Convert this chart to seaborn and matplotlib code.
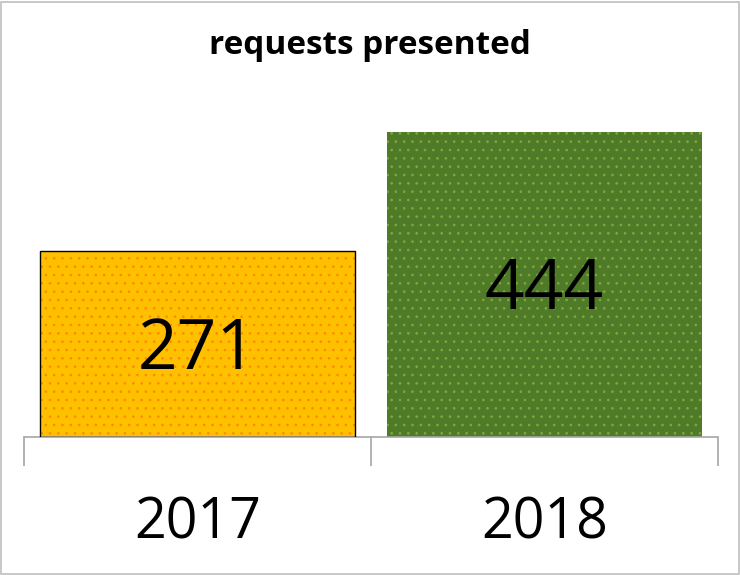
import matplotlib
matplotlib.use("Agg")
import matplotlib.pyplot as plt
import seaborn as sns
import pandas as pd

years = ["2017", "2018"]
requests = [271, 444]
bar_colors = ["#FFC000", "#4F7A28"]
dot_colors = ["#FF8A00", "#7FA83A"]

df = pd.DataFrame({"year": years, "requests": requests})

sns.set_style("white")
plt.rcParams['font.family'] = ['Open Sans', 'DejaVu Sans']
plt.rcParams['hatch.linewidth'] = 0.7

fig = plt.figure(figsize=(7.4, 5.75), dpi=100)
ax = fig.add_axes([0.0324, 0.24, 0.9378, 0.586])

sns.barplot(data=df, x="year", y="requests", hue="year", palette=bar_colors,
            width=0.91, saturation=1, legend=False, ax=ax)  # bars

# dotted texture like the original fill pattern
for bar, dc in zip(ax.patches, dot_colors):
    bar.set_hatch("..")
    bar.set_edgecolor(dc)
    bar.set_linewidth(0)
# thin black outline on the first bar only
x0 = ax.patches[0]
outline = plt.Rectangle((x0.get_x(), 0), x0.get_width(), x0.get_height(),
                        fill=False, edgecolor="black", linewidth=1, zorder=3)
ax.add_patch(outline)

# value labels centred in the bars
for i, v in enumerate(requests):
    ax.annotate(str(v), (i, v / 2), xytext=(0, -7), textcoords="offset pixels",
                ha="center", va="center", fontsize=50, color="black", zorder=4)

ax.set_xlim(-0.5, 1.5)
ax.set_ylim(0, 490)
ax.set_xlabel("")
ax.set_ylabel("")
ax.set_yticks([])
ax.set_xticks([-0.5, 0.5, 1.5])
ax.set_xticklabels(["", "", ""])
ax.tick_params(axis="x", length=21, color="#A6A6A6", width=1.2, direction="out", bottom=True)
for i, y in enumerate(years):
    ax.text(i, -0.258, y, transform=ax.get_xaxis_transform(), ha="center", va="center",
            fontsize=40, color="black")

for s in ["top", "right", "left"]:
    ax.spines[s].set_visible(False)
ax.spines["bottom"].set_color("#A6A6A6")
ax.spines["bottom"].set_linewidth(1.2)

fig.text(0.5, 0.921, "requests presented", ha="center", va="center",
         fontsize=24, fontweight="bold", color="black")

# light grey border around the chart
fig.patches.append(plt.Rectangle((0.002, 0.002), 0.996, 0.995, transform=fig.transFigure,
                                 fill=False, edgecolor="#BFBFBF", linewidth=1.2))

fig.savefig("out.png", dpi=100)
